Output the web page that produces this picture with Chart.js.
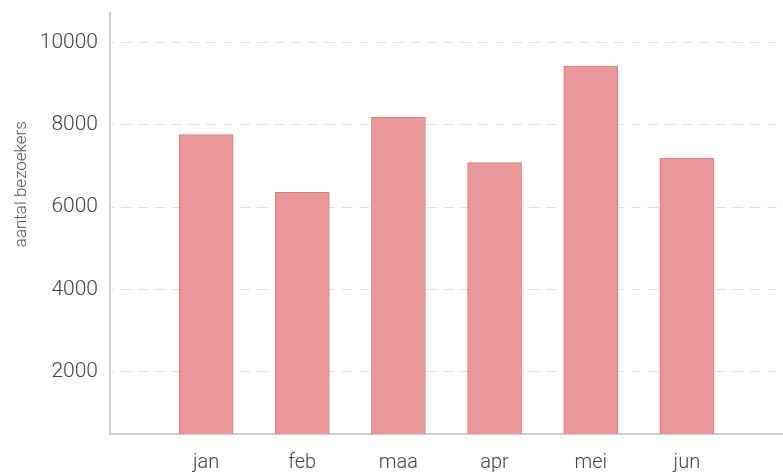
<!DOCTYPE html>
<html>
<head>
<meta charset="utf-8">
<script src="https://cdn.jsdelivr.net/npm/chart.js@4/dist/chart.umd.min.js"></script>
<style>
  html, body { margin: 0; padding: 0; background: #fff; }
  #wrap { width: 783px; height: 476px; }
</style>
</head>
<body>
<div id="wrap"><canvas id="bezoekers"></canvas></div>
<script>
const months = ['jan', 'feb', 'maa', 'apr', 'mei', 'jun'];
const visitors = [7760, 6360, 8180, 7080, 9430, 7190];
const yTicks = [2000, 4000, 6000, 8000, 10000];

// one empty slot on each side so the bars sit away from the axes
const labels = ['', ...months, ''];
const values = [null, ...visitors, null];

const ctx = document.getElementById('bezoekers').getContext('2d');

new Chart(ctx, {
  type: 'bar',
  data: {
    labels,
    datasets: [{
      label: 'bezoekers',
      data: values,
      backgroundColor: 'rgb(234,151,154)',
      borderColor: 'rgb(208,128,132)',
      borderWidth: 1,
      barThickness: 54
    }]
  },
  options: {
    responsive: true,
    maintainAspectRatio: false,
    animation: false,
    layout: { padding: { top: 13, right: 0, left: 0, bottom: 0 } },
    plugins: { legend: { display: false }, tooltip: { enabled: false } },
    scales: {
      x: {
        offset: false,
        grid: { display: false },
        border: { color: '#cfcfcf', width: 2 },
        ticks: {
          color: '#444',
          padding: 9,
          maxRotation: 0,
          autoSkip: false,
          font: { family: 'Roboto', weight: 300, size: 20 }
        },
        afterFit: s => { s.height = 42; s.paddingLeft = 0; s.paddingRight = 0; }
      },
      y: {
        min: 480,
        max: 10720,
        afterBuildTicks: s => { s.ticks = yTicks.map(v => ({ value: v })); },
        grid: {
          color: '#e0e0e0',
          lineWidth: 1,
          drawTicks: false
        },
        border: { color: '#cfcfcf', width: 2, dash: [10, 7], dashOffset: -10 },
        ticks: {
          color: '#444',
          padding: 12,
          callback: v => String(v),
          font: { family: 'Roboto', weight: 300, size: 21 }
        },
        title: {
          display: true,
          text: '                   aantal bezoekers',
          color: '#555',
          padding: { top: 12, bottom: 0 },
          font: { family: 'Roboto', weight: 300, size: 17 }
        },
        afterFit: s => { s.width = 110; s.paddingTop = 0; s.paddingBottom = 0; }
      }
    }
  }
});
</script>
</body>
</html>
